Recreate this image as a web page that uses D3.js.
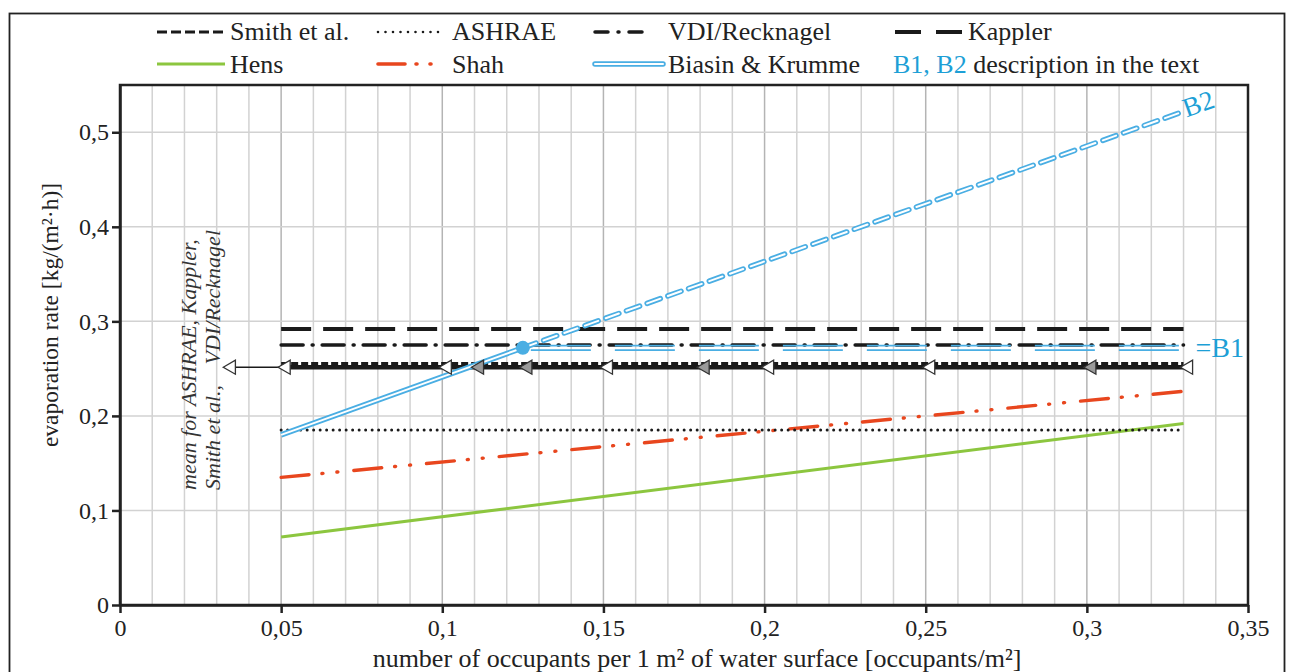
<!DOCTYPE html>
<html lang="en">
<head>
  <meta charset="utf-8">
  <title>Evaporation rate vs occupants</title>
  <script src="https://d3js.org/d3.v7.min.js"></script>
  <style>
    body { margin: 0; background: #fff; }
    svg { font-family: "Liberation Serif", "DejaVu Serif", serif; }
    .grid-minor { stroke: #d2d2d2; stroke-width: 1.5; }
    .grid-major { stroke: #b4b4b4; stroke-width: 1.5; }
    .axis text { font-size: 24px; fill: #222; font-family: "Liberation Serif", serif; }
    .axis path, .axis line { stroke: #222; stroke-width: 2.5; }
    .legend text { font-size: 26px; fill: #222; }
  </style>
</head>
<body>
<div id="chart"></div>
<script>
  // ---- data ----
  var xTicks = [0, 0.05, 0.1, 0.15, 0.2, 0.25, 0.3, 0.35];
  var yTicks = [0, 0.1, 0.2, 0.3, 0.4, 0.5];

  var occX = [0.05, 0.33];               // common x-range of the correlations
  var smith = [0.2552, 0.2552];
  var ashrae = [0.185, 0.185];
  var vdi = [0.275, 0.275];
  var kappler = [0.292, 0.292];
  var hens = [0.072, 0.192];
  var shah = [0.135, 0.226];

  var biasinB1x = [0.05, 0.125];
  var biasinB1 = [0.18, 0.272];
  var biasinB2x = [0.125, 0.33];
  var biasinB2 = [0.272, 0.522];
  var biasinFlatX = [0.125, 0.33];
  var biasinFlat = [0.272, 0.272];

  var meanValue = 0.2515;
  var meanArrowX = [0.033, 0.05];
  var whiteMarks = [0.033, 0.05, 0.1, 0.15, 0.2, 0.25, 0.33];
  var grayMarks = [0.11, 0.125, 0.18, 0.3];

  var black = "#1a1a1a", green = "#8cc63f", red = "#e8461e",
      blue = "#4aaee3", blueText = "#1d9fd6";

  var W = 1292, H = 672;
  var svg = d3.select("#chart").append("svg")
    .attr("width", W).attr("height", H);

  // outer frame
  svg.append("rect")
    .attr("x", 9.5).attr("y", 13.5).attr("width", 1275).attr("height", 700)
    .attr("fill", "none").attr("stroke", "#222").attr("stroke-width", 1.8);

  var x = d3.scaleLinear().domain([0, 0.35]).range([120, 1248]);
  var y = d3.scaleLinear().domain([0, 0.55]).range([605, 85]);

  var fmt = function(d) { return d === 0 ? "0" : String(+d.toFixed(2)).replace(".", ","); };

  // grid
  var g = svg.append("g");
  d3.range(1, 35).forEach(function(i) {
    g.append("line")
      .attr("class", i % 5 === 0 ? "grid-major" : "grid-minor")
      .attr("x1", x(i / 100)).attr("x2", x(i / 100))
      .attr("y1", y(0)).attr("y2", y(0.55));
  });
  yTicks.slice(1).forEach(function(v) {
    g.append("line").attr("class", "grid-minor")
      .attr("x1", x(0)).attr("x2", x(0.35))
      .attr("y1", y(v)).attr("y2", y(v));
  });

  // frame of the plot
  svg.append("rect")
    .attr("x", x(0)).attr("y", y(0.55))
    .attr("width", x(0.35) - x(0)).attr("height", y(0) - y(0.55))
    .attr("fill", "none").attr("stroke", "#222").attr("stroke-width", 2.5);

  svg.append("g").attr("class", "axis")
    .attr("transform", "translate(0," + y(0) + ")")
    .call(d3.axisBottom(x).tickValues(xTicks).tickFormat(fmt).tickSize(8).tickSizeOuter(0).tickPadding(6));
  svg.append("g").attr("class", "axis")
    .attr("transform", "translate(" + x(0) + ",0)")
    .call(d3.axisLeft(y).tickValues(yTicks).tickFormat(fmt).tickSize(8).tickSizeOuter(0).tickPadding(3));

  // axis titles
  svg.append("text")
    .attr("x", 697).attr("y", 667)
    .attr("text-anchor", "middle").attr("font-size", 26).attr("fill", "#222")
    .text("number of occupants per 1 m² of water surface [occupants/m²]");
  svg.append("text")
    .attr("transform", "translate(58,315) rotate(-90)")
    .attr("text-anchor", "middle").attr("font-size", 23.5).attr("fill", "#222")
    .text("evaporation rate [kg/(m²·h)]");

  var line2 = function(xs, ys) {
    return d3.line().x(function(d) { return x(d[0]); }).y(function(d) { return y(d[1]); })(d3.zip(xs, ys));
  };

  // series
  svg.append("path").attr("d", line2(occX, hens))
    .attr("stroke", green).attr("stroke-width", 3).attr("fill", "none");
  svg.append("path").attr("d", line2(occX, shah))
    .attr("stroke", red).attr("stroke-width", 3.4).attr("fill", "none")
    .attr("stroke-dasharray", "28,13,1,14,1,16").attr("stroke-linecap", "round");
  svg.append("path").attr("d", line2(occX, ashrae))
    .attr("stroke", black).attr("stroke-width", 3).attr("fill", "none")
    .attr("stroke-dasharray", "0,6.5").attr("stroke-linecap", "round");

  // mean line with arrow
  svg.append("path").attr("d", line2(meanArrowX, [meanValue, meanValue]))
    .attr("stroke", black).attr("stroke-width", 1.6).attr("fill", "none");
  svg.append("path").attr("d", line2(occX, [meanValue, meanValue]))
    .attr("stroke", black).attr("stroke-width", 4.5).attr("fill", "none");
  svg.append("path").attr("d", line2(occX, smith))
    .attr("stroke", black).attr("stroke-width", 3.2).attr("fill", "none")
    .attr("stroke-dasharray", "7,3");
  svg.append("path").attr("d", line2(occX, vdi))
    .attr("stroke", black).attr("stroke-width", 3.5).attr("fill", "none")
    .attr("stroke-dasharray", "22,9,1,9").attr("stroke-linecap", "round");
  svg.append("path").attr("d", line2(occX, kappler))
    .attr("stroke", black).attr("stroke-width", 4).attr("fill", "none")
    .attr("stroke-dasharray", "30,12");

  // Biasin & Krumme: B1 horizontal (double dashed)
  [-2.2, 2.2].forEach(function(off) {
    svg.append("path").attr("d", line2(biasinFlatX, biasinFlat))
      .attr("transform", "translate(0," + off + ")")
      .attr("stroke", blue).attr("stroke-width", 1.8).attr("fill", "none")
      .attr("stroke-dasharray", "0,8,60,16");
  });
  // B1 rising, solid double line
  svg.append("path").attr("d", line2(biasinB1x, biasinB1))
    .attr("stroke", blue).attr("stroke-width", 5.5).attr("fill", "none");
  svg.append("path").attr("d", line2(biasinB1x, biasinB1))
    .attr("stroke", "#fff").attr("stroke-width", 2).attr("fill", "none");
  // B2 rising, dashed double line
  svg.append("path").attr("d", line2(biasinB2x, biasinB2))
    .attr("stroke", blue).attr("stroke-width", 5.5).attr("fill", "none")
    .attr("stroke-dasharray", "14,8").attr("stroke-linecap", "round");
  svg.append("path").attr("d", line2(biasinB2x, biasinB2))
    .attr("stroke", "#fff").attr("stroke-width", 2).attr("fill", "none")
    .attr("stroke-dasharray", "14,8").attr("stroke-linecap", "round");
  svg.append("circle")
    .attr("cx", x(biasinB1x[1])).attr("cy", y(biasinB1[1])).attr("r", 7)
    .attr("fill", blue);

  // triangle markers on mean line
  var tri = d3.symbol().type(d3.symbolTriangle).size(85);
  svg.selectAll(".wm").data(whiteMarks).enter().append("path")
    .attr("d", tri)
    .attr("transform", function(d) { return "translate(" + (x(d) + 5) + "," + y(meanValue) + ") rotate(-90)"; })
    .attr("fill", "#fff").attr("stroke", "#333").attr("stroke-width", 1.3);
  svg.selectAll(".gm").data(grayMarks).enter().append("path")
    .attr("d", tri)
    .attr("transform", function(d) { return "translate(" + (x(d) + 5) + "," + y(meanValue) + ") rotate(-90)"; })
    .attr("fill", "#9a9a9a").attr("stroke", "#333").attr("stroke-width", 1.3);

  // B labels
  svg.append("text")
    .attr("x", x(0.33) + 12).attr("y", y(biasinFlat[1]) + 9)
    .attr("font-size", 28).attr("fill", blueText).text("=B1");
  var ang = Math.atan2(y(biasinB2[0]) - y(biasinB2[1]), x(biasinB2x[1]) - x(biasinB2x[0])) * 180 / Math.PI;
  svg.append("text")
    .attr("transform", "translate(" + (x(0.33) + 3) + "," + (y(biasinB2[1]) + 6) + ") rotate(" + (-ang) + ")")
    .attr("font-size", 27).attr("fill", blueText).text("B2");

  // vertical note
  svg.append("text")
    .attr("transform", "translate(196,490) rotate(-90)")
    .attr("font-size", 22).attr("font-style", "italic").attr("fill", "#333")
    .text("mean for ASHRAE, Kappler,");
  svg.append("text")
    .attr("transform", "translate(220,490) rotate(-90)")
    .attr("font-size", 22).attr("font-style", "italic").attr("fill", "#333")
    .text("Smith et al.,");
  svg.append("text")
    .attr("transform", "translate(220,230) rotate(-90)")
    .attr("text-anchor", "end")
    .attr("font-size", 22).attr("font-style", "italic").attr("fill", "#333")
    .text("VDI/Recknagel");

  // legend
  var leg = svg.append("g").attr("class", "legend");
  var legendNames = ["Smith et al.", "ASHRAE", "VDI/Recknagel", "Kappler", "Hens", "Shah", "Biasin & Krumme"];
  var legendPos = [[157, 225, 230, 0], [378, 442, 452, 0], [595, 650, 668, 0], [895, 962, 968, 0],
                   [157, 225, 230, 1], [378, 442, 452, 1], [595, 663, 668, 1]];
  var legendStyle = [
    { c: black, w: 3.2, dash: "10,4" },
    { c: black, w: 2.6, dash: "0,7.5", cap: "round" },
    { c: black, w: 3.5, dash: "13,10,1,10", cap: "round" },
    { c: black, w: 3.8, dash: "26,15" },
    { c: green, w: 3 },
    { c: red, w: 3.6, dash: "27,11,1,13,1,30", cap: "round" },
    { c: blue, w: 5.5, dbl: true }
  ];
  legendNames.forEach(function(name, i) {
    var p = legendPos[i], s = legendStyle[i];
    var ly = p[3] === 0 ? 32 : 64;
    var ln = leg.append("line")
      .attr("x1", p[0]).attr("x2", p[1]).attr("y1", ly).attr("y2", ly)
      .attr("stroke", s.c).attr("stroke-width", s.w);
    if (s.dash) ln.attr("stroke-dasharray", s.dash);
    if (s.cap) ln.attr("stroke-linecap", s.cap);
    if (s.dbl) {
      ln.attr("stroke-linecap", "round");
      leg.append("line")
        .attr("x1", p[0]).attr("x2", p[1]).attr("y1", ly).attr("y2", ly)
        .attr("stroke", "#fff").attr("stroke-width", 2).attr("stroke-linecap", "round");
    }
    leg.append("text").attr("x", p[2]).attr("y", p[3] === 0 ? 40 : 73).text(name);
  });
  var note = leg.append("text").attr("x", 893).attr("y", 73);
  note.append("tspan").attr("fill", blueText).text("B1, B2");
  note.append("tspan").text(" description in the text");
</script>
</body>
</html>
